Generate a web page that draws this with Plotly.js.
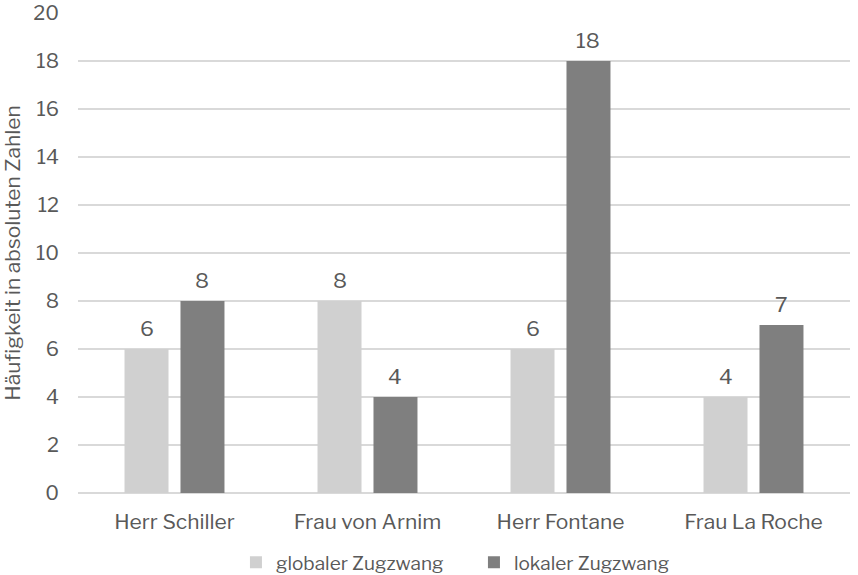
<!DOCTYPE html>
<html>
<head>
<meta charset="utf-8">
<script src="https://cdn.plot.ly/plotly-3.0.1.min.js"></script>
<style>
  html, body { margin: 0; padding: 0; background: #fff; }
  #chart { width: 858px; height: 575px; }
</style>
</head>
<body>
<div id="chart"></div>
<script>
// Speakers and counts per type of narrative constraint
const categories = ["Herr Schiller", "Frau von Arnim", "Herr Fontane", "Frau La Roche"];
const globalValues = [6, 8, 6, 4];
const localValues = [8, 4, 18, 7];
const seriesNames = ["globaler Zugzwang", "lokaler Zugzwang"];
const yTicks = [0, 2, 4, 6, 8, 10, 12, 14, 16, 18, 20];

const fontFamily = "'Libre Franklin', 'Open Sans', 'Liberation Sans', sans-serif";
const textColor = "#595959";
const seriesColors = ["#d0d0d0", "#7f7f7f"];

function barTrace(name, values, color, group) {
  return {
    type: "bar",
    name: name,
    x: categories,
    y: values,
    offsetgroup: group,
    marker: { color: color },
    hoverinfo: "x+y+name"
  };
}

const data = [
  barTrace(seriesNames[0], globalValues, seriesColors[0], "g"),
  barTrace(seriesNames[1], localValues, seriesColors[1], "l")
];

// Value labels sit above each bar; the pair is split left/right of the category centre
const bargap = 0.42;
const bargroupgap = 0.214;
const slot = (1 - bargap) / 2;          // width of one bar slot in category units
function labels(values, side) {
  return values.map((v, i) => ({
    x: i + side * slot / 2,
    y: v,
    xref: "x",
    yref: "y",
    text: String(v),
    showarrow: false,
    yanchor: "bottom",
    yshift: 6,
    font: { family: fontFamily, size: 21, color: textColor }
  }));
}

const layout = {
  width: 858,
  height: 575,
  margin: { l: 78, r: 8, t: 13, b: 82, autoexpand: false },
  paper_bgcolor: "#ffffff",
  plot_bgcolor: "#ffffff",
  font: { family: fontFamily, color: textColor, size: 20 },
  barmode: "group",
  bargap: bargap,
  bargroupgap: bargroupgap,
  showlegend: true,
  legend: {
    orientation: "h",
    x: 0.275,
    xref: "container",
    xanchor: "left",
    y: 0.022,
    yref: "container",
    yanchor: "middle",
    font: { family: fontFamily, size: 19, color: textColor },
    itemwidth: 30,
    entrywidth: 193,
    entrywidthmode: "pixels",
    traceorder: "normal"
  },
  annotations: labels(globalValues, -1).concat(labels(localValues, 1)),
  xaxis: {
    type: "category",
    showgrid: false,
    showline: false,
    zeroline: false,
    ticks: "",
    ticklabelstandoff: 14,
    tickfont: { family: fontFamily, size: 21, color: textColor }
  },
  yaxis: {
    range: [0, 20],
    tickvals: yTicks,
    ticktext: yTicks.map(String),
    showgrid: true,
    gridcolor: "#d9d9d9",
    gridwidth: 1.5,
    zeroline: true,
    zerolinecolor: "#d9d9d9",
    zerolinewidth: 1.5,
    showline: false,
    ticks: "",
    ticklabelstandoff: 18,
    tickfont: { family: fontFamily, size: 20, color: textColor },
    title: {
      text: "Häufigkeit in absoluten Zahlen",
      font: { family: fontFamily, size: 21, color: textColor },
      standoff: 6
    }
  }
};

Plotly.newPlot("chart", data, layout, { displayModeBar: false, staticPlot: true });
</script>
</body>
</html>
